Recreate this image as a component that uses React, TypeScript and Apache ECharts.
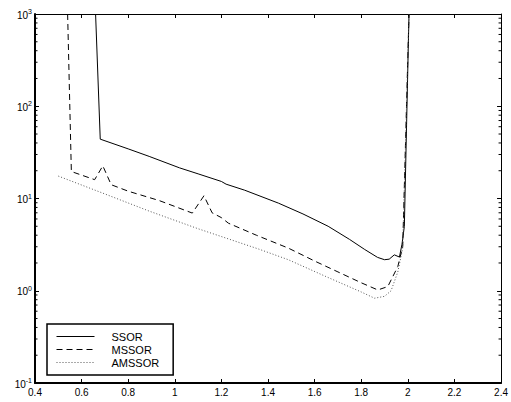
import React, { useEffect, useRef } from "react";
import * as echarts from "echarts";

const X_MIN = 0.4;
const X_MAX = 2.4;
const X_STEP = 0.2;
const Y_MIN = 0.1;
const Y_MAX = 1000;

const seriesNames = ["SSOR", "MSSOR", "AMSSOR"];

const ssorX = [0.66, 0.68, 0.8, 0.89, 1.02, 1.1, 1.2, 1.22, 1.3, 1.445, 1.55, 1.658, 1.75, 1.815, 1.87, 1.9, 1.92, 1.942, 1.964, 1.975, 1.985, 2.005];
const ssorY = [1000, 44, 34.5, 28.6, 21.5, 18.5, 15.3, 14.3, 12.3, 8.9, 6.8, 5.0, 3.6, 2.8, 2.3, 2.17, 2.2, 2.45, 2.32, 3.2, 5.0, 1000];

const mssorX = [0.54, 0.556, 0.656, 0.691, 0.727, 0.8, 0.933, 1.0, 1.075, 1.125, 1.16, 1.2, 1.23, 1.35, 1.487, 1.6, 1.7, 1.8, 1.871, 1.914, 1.957, 1.978, 2.005];
const mssorY = [1000, 19.6, 16, 22.6, 14.1, 12, 9.5, 8.2, 6.95, 10.7, 7, 6.2, 5.4, 4.0, 2.9, 2.1, 1.6, 1.22, 1.02, 1.11, 1.83, 3.0, 1000];

const amssorX = [0.5, 0.7, 0.89, 1.1, 1.36, 1.487, 1.65, 1.8, 1.857, 1.9, 1.928, 1.957, 1.978, 2.005];
const amssorY = [17.5, 11.2, 7.3, 4.7, 2.83, 2.17, 1.42, 0.97, 0.83, 0.87, 1.0, 1.6, 2.9, 1000];

const minorTickValues: number[] = [];
for (const d of [0.1, 1, 10, 100]) {
  for (let k = 2; k <= 9; k++) minorTickValues.push(+(d * k).toPrecision(3));
}

const FONT = "'Liberation Sans', Arial, sans-serif";

function pairs(xs: number[], ys: number[]) {
  return xs.map((x, i) => [x, ys[i]]);
}

export default function App() {
  const ref = useRef<HTMLDivElement>(null);
  useEffect(() => {
    if (!ref.current) return;
    const chart = echarts.init(ref.current, undefined, { renderer: "svg" });
    const axisCommon = {
      axisTick: { inside: true, length: 4, lineStyle: { color: "#000", width: 1 } },
      splitLine: { show: false },
    };
    chart.setOption({
      animation: false,
      backgroundColor: "#fff",
      textStyle: { fontFamily: FONT },
      grid: { left: 35, right: 7, top: 14, bottom: 19, containLabel: false },
      legend: {
        data: seriesNames,
        orient: "vertical",
        left: 47,
        top: 324,
        itemWidth: 38,
        itemHeight: 10,
        itemGap: 0,
        padding: [6, 14, 6, 9],
        borderColor: "#000",
        borderWidth: 1.5,
        backgroundColor: "#fff",
        selectedMode: false,
        itemStyle: { opacity: 0 },
        lineStyle: { width: 1 },
        textStyle: { fontFamily: FONT, fontSize: 11, color: "#000", padding: [0, 0, 0, 12], lineHeight: 13 },
      },
      xAxis: [
        {
          type: "value",
          position: "bottom",
          min: X_MIN,
          max: X_MAX,
          interval: X_STEP,
          axisLine: { show: true, onZero: false, lineStyle: { color: "#000", width: 2 } },
          axisLabel: { color: "#000", fontSize: 10, margin: 4, fontFamily: FONT },
          ...axisCommon,
        },
        {
          type: "value",
          position: "top",
          min: X_MIN,
          max: X_MAX,
          interval: X_STEP,
          axisLine: { show: true, onZero: false, lineStyle: { color: "#000", width: 1 } },
          axisLabel: { show: false },
          ...axisCommon,
        },
      ],
      yAxis: [
        {
          type: "log",
          logBase: 10,
          position: "left",
          min: Y_MIN,
          max: Y_MAX,
          axisLine: { show: true, onZero: false, lineStyle: { color: "#000", width: 2 } },
          axisLabel: {
            color: "#000",
            margin: 3,
            formatter: (v: number) => `{b|10}{s|${Math.round(Math.log10(v))}}`,
            rich: {
              b: { fontSize: 10, fontFamily: FONT, color: "#000", verticalAlign: "bottom" },
              s: { fontSize: 7, fontFamily: FONT, color: "#000", verticalAlign: "bottom", padding: [0, 0, 5, 0] },
            },
          },
          ...axisCommon,
        },
        {
          type: "log",
          logBase: 10,
          position: "right",
          min: Y_MIN,
          max: Y_MAX,
          axisLine: { show: true, onZero: false, lineStyle: { color: "#000", width: 1 } },
          axisLabel: { show: false },
          ...axisCommon,
        },
      ],
      series: [
        {
          name: "SSOR",
          type: "line",
          data: pairs(ssorX, ssorY),
          showSymbol: false,
          symbol: "none",
          lineStyle: { color: "#000", width: 1, type: "solid" },
          itemStyle: { color: "#000" },
        },
        {
          name: "MSSOR",
          type: "line",
          data: pairs(mssorX, mssorY),
          showSymbol: false,
          symbol: "none",
          lineStyle: { color: "#000", width: 1, type: [6, 4] },
          itemStyle: { color: "#000" },
        },
        {
          name: "AMSSOR",
          type: "line",
          data: pairs(amssorX, amssorY),
          showSymbol: false,
          symbol: "none",
          lineStyle: { color: "#555", width: 1, type: [1, 2] },
          itemStyle: { color: "#555" },
        },
        {
          name: "minorTicks",
          type: "custom",
          silent: true,
          data: minorTickValues.map((v) => [X_MIN, v]),
          renderItem: (_params: any, api: any) => {
            const v = api.value(1);
            const p = api.coord([X_MIN, v]);
            const q = api.coord([X_MAX, v]);
            return {
              type: "group",
              children: [
                { type: "line", shape: { x1: p[0], y1: p[1], x2: p[0] + 2.5, y2: p[1] }, style: { stroke: "#000", lineWidth: 1 } },
                { type: "line", shape: { x1: q[0], y1: q[1], x2: q[0] - 2.5, y2: q[1] }, style: { stroke: "#000", lineWidth: 1 } },
              ],
            };
          },
        },
      ],
    });
    return () => chart.dispose();
  }, []);
  return <div ref={ref} style={{ position: "fixed", left: 0, top: 0, width: 511, height: 402 }} />;
}
